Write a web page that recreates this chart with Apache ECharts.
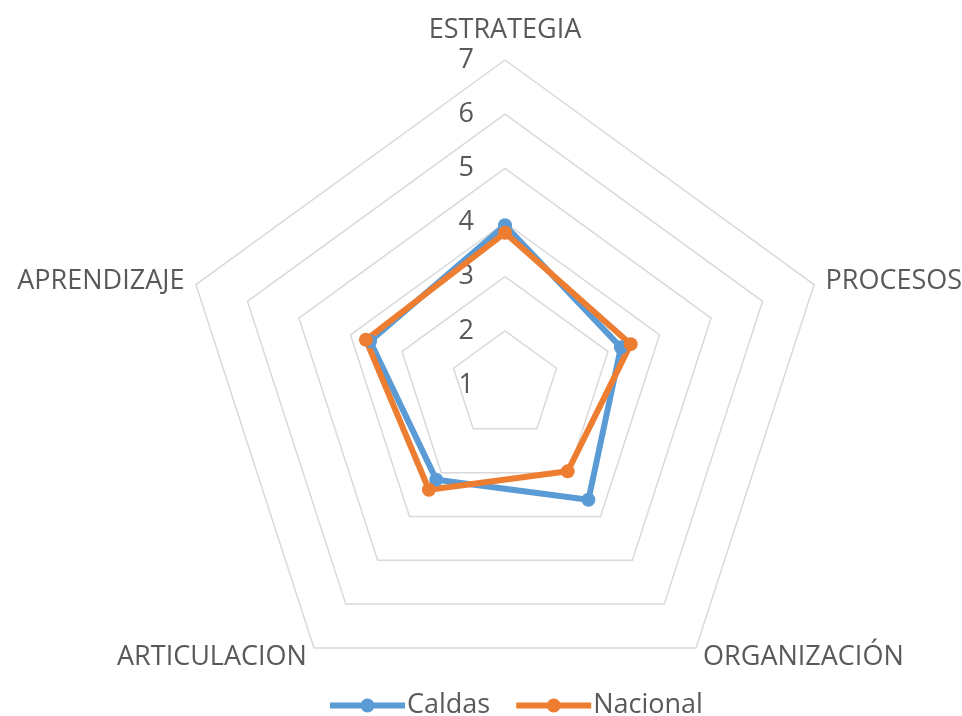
<!DOCTYPE html>
<html><head><meta charset="utf-8">
<script src="https://cdn.jsdelivr.net/npm/echarts@6/dist/echarts.min.js"></script>
<style>html,body{margin:0;padding:0;background:#fff}#c{width:962px;height:716px}</style>
</head><body><div id="c"></div>
<script>
// categories in clockwise order starting at the top
const categories = ['ESTRATEGIA', 'PROCESOS', 'ORGANIZACIÓN', 'ARTICULACION', 'APRENDIZAJE'];
const caldas = [3.95, 3.25, 3.62, 3.16, 3.62];
const nacional = [3.81, 3.44, 2.97, 3.39, 3.7];
const seriesNames = ['Caldas', 'Nacional'];
const axisMin = 1, axisMax = 7;

// ECharts radar goes counter-clockwise; reorder so the picture runs clockwise
const order = [0, 4, 3, 2, 1];
const cw = arr => order.map(i => arr[i]);

const txt = '#595959';
const font = 'Open Sans';
const fs = 27;
const legendIcon = 'path://M0,4H31.2V10H0Z M43.8,4H75V10H43.8Z M30.5,7A7,7 0 1,1 44.5,7A7,7 0 1,1 30.5,7Z';
const chart = echarts.init(document.getElementById('c'));
chart.setOption({
  animation: false,
  textStyle: { fontFamily: font },
  color: ['#5b9bd5', '#ed7d31'],
  legend: {
    bottom: -8, left: 325, itemWidth: 75, itemHeight: 14, itemGap: 26,
    textStyle: { color: txt, fontSize: fs, fontFamily: font, padding: [0, 0, 0, -3] },
    data: seriesNames.map(n => ({ name: n, icon: legendIcon }))
  },
  radar: {
    center: [505, 385], radius: 325, startAngle: 90, splitNumber: 6,
    shape: 'polygon',
    axisName: {
      color: txt, fontSize: fs, fontFamily: font,
      formatter: (name) => name === categories[0] ? '{top|' + name + '}' : name,
      rich: { top: { color: txt, fontSize: fs, fontFamily: font, padding: [0, 0, 4, 0] } }
    },
    nameGap: 12,
    axisLine: { show: false },
    axisTick: { show: false },
    axisLabel: { show: false },
    splitLine: { lineStyle: { color: '#d9d9d9', width: 1.5 } },
    splitArea: { show: false },
    indicator: cw(categories).map((c, i) => ({
      name: c, min: axisMin, max: axisMax,
      axisLabel: i === 0 ? { show: true, color: txt, fontSize: fs, margin: 31, showMinLabel: true, showMaxLabel: true } : undefined
    }))
  },
  series: [{
    type: 'radar',
    symbol: 'circle', symbolSize: 14,
    data: [
      { name: seriesNames[0], value: cw(caldas), lineStyle: { color: '#5b9bd5', width: 6 }, itemStyle: { color: '#5b9bd5' } },
      { name: seriesNames[1], value: cw(nacional), lineStyle: { color: '#ed7d31', width: 6 }, itemStyle: { color: '#ed7d31' } }
    ]
  }]
});
</script></body></html>
